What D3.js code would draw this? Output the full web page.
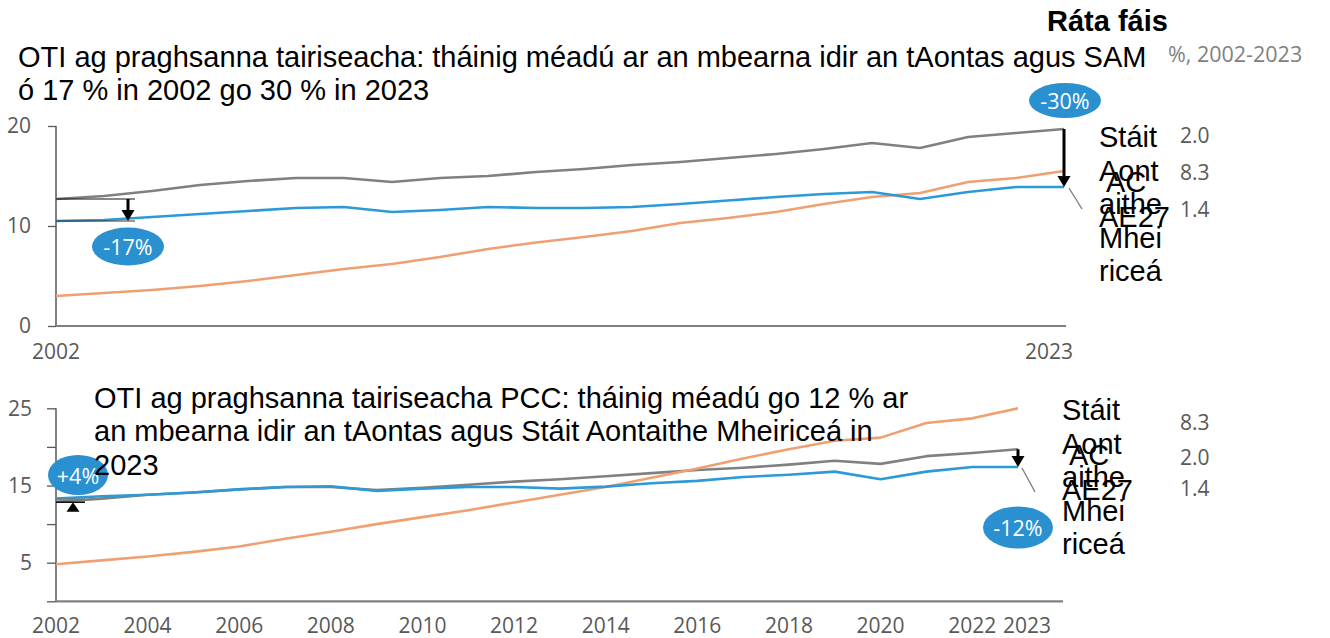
<!DOCTYPE html>
<html><head><meta charset="utf-8">
<script src="https://cdn.jsdelivr.net/npm/d3@7"></script>
<style>body{margin:0;background:#fff}</style>
</head><body><svg id="c" width="1330" height="638"></svg>
<script>
// ---------- data ----------
const years = [2002,2003,2004,2005,2006,2007,2008,2009,2010,2011,2012,2013,2014,2015,2016,2017,2018,2019,2020,2021,2022,2023];

// Panel 1: GDP at constant prices
const topUS = [12.7,13.0,13.5,14.1,14.5,14.8,14.8,14.4,14.8,15.0,15.4,15.7,16.1,16.4,16.8,17.2,17.7,18.3,17.8,18.9,19.3,19.7];
const topEU = [10.5,10.6,10.9,11.2,11.5,11.8,11.9,11.4,11.6,11.9,11.8,11.8,11.9,12.2,12.55,12.9,13.2,13.4,12.7,13.4,13.9,13.9];
const topCN = [3.0,3.3,3.6,4.0,4.5,5.1,5.7,6.2,6.9,7.7,8.35,8.9,9.5,10.3,10.8,11.4,12.2,12.9,13.3,14.4,14.8,15.5];

// Panel 2: GDP at constant prices PPP
const botUS = [12.9,13.3,13.8,14.1,14.5,14.8,14.8,14.4,14.7,15.1,15.5,15.8,16.2,16.6,17.0,17.3,17.7,18.2,17.8,18.8,19.2,19.7];
const botEU = [13.3,13.6,13.8,14.1,14.5,14.8,14.9,14.3,14.6,14.8,14.8,14.6,14.85,15.3,15.6,16.1,16.4,16.8,15.8,16.8,17.4,17.4];
const botCN = [4.8,5.3,5.8,6.4,7.1,8.1,9.0,10.0,10.9,11.8,12.8,13.8,14.8,16.0,17.2,18.5,19.7,20.8,21.2,23.1,23.7,25.0];

const topYTicks = [0,10,20];
const topYLabels = [0,10,20];
const topXLabels = [2002,2023];
const botYTicks = [0,5,10,15,20,25];
const botYLabels = [5,15,25];
const botXLabels = [2002,2004,2006,2008,2010,2012,2014,2016,2018,2020,2022,2023];

const topTitle = "OTI ag praghsanna tairiseacha: tháinig méadú ar an mbearna idir an tAontas agus SAM ó 17 % in 2002 go 30 % in 2023";
const botTitle = "OTI ag praghsanna tairiseacha PCC: tháinig méadú go 12 % ar an mbearna idir an tAontas agus Stáit Aontaithe Mheiriceá in 2023";
const seriesNames = ["Stáit Aontaithe Mheiriceá","AC","AE27"];
const growthTitle = "Ráta fáis";
const growthSub = "%, 2002-2023";
const topGrowth = ["2.0","8.3","1.4"];
const botGrowth = ["8.3","2.0","1.4"];
const topGaps = ["-17%","-30%"];
const botGaps = ["+4%","-12%"];

// ---------- style ----------
const TXT = "'Liberation Sans', Arial, sans-serif";
const NUM = "'Open Sans', 'Noto Sans', sans-serif";
const C_US = "#808080", C_CN = "#f0a070", C_EU = "#2b9ad6", C_BUB = "#2a90d0";

const svg = d3.select("#c");

function wrapWords(sel, str, maxW, lh) {
  const words = str.split(" ");
  let line = [], tspan = sel.append("tspan").attr("x", sel.attr("x")).attr("dy", 0);
  for (const w of words) {
    line.push(w);
    tspan.text(line.join(" "));
    if (tspan.node().getComputedTextLength() > maxW && line.length > 1) {
      line.pop();
      tspan.text(line.join(" "));
      line = [w];
      tspan = sel.append("tspan").attr("x", sel.attr("x")).attr("dy", lh).text(w);
    }
  }
}
function wrapChars(sel, str, maxW, lh) {
  let cur = "";
  let tspan = sel.append("tspan").attr("x", sel.attr("x")).attr("dy", 0);
  for (const ch of str) {
    const test = cur + ch;
    tspan.text(test);
    if (tspan.node().getComputedTextLength() > maxW && cur.trim() !== "") {
      tspan.text(cur.trim());
      cur = ch === " " ? "" : ch;
      tspan = sel.append("tspan").attr("x", sel.attr("x")).attr("dy", lh).text(cur);
    } else cur = test;
  }
  tspan.text(cur.trim());
}

function arrow(g, x, y0, y1) {
  const dir = y1 > y0 ? 1 : -1;
  const head = 11;
  g.append("line").attr("x1", x).attr("x2", x).attr("y1", y0).attr("y2", y1 - dir * head)
    .attr("stroke", "#000").attr("stroke-width", 3);
  g.append("path").attr("d", `M${x-6.5},${y1 - dir*head} L${x+6.5},${y1 - dir*head} L${x},${y1} Z`).attr("fill", "#000");
}
function bubble(g, cx, cy, rx, ry, label) {
  g.append("ellipse").attr("cx", cx).attr("cy", cy).attr("rx", rx).attr("ry", ry).attr("fill", C_BUB);
  g.append("text").attr("x", cx).attr("y", cy).attr("text-anchor", "middle").attr("dominant-baseline", "central")
    .attr("font-family", NUM).attr("font-size", 21.5).attr("fill", "#fff").text(label);
}

function panel(o) {
  const g = svg.append("g");
  const x = d3.scaleLinear().domain([years[0], years[years.length-1]]).range(o.xr);
  const y = d3.scaleLinear().domain(o.yd).range(o.yr);

  const ya = g.append("g").attr("transform", `translate(${o.xr[0]},0)`)
    .call(d3.axisLeft(y).tickValues(o.yTicks).tickSize(o.tick).tickSizeOuter(0).tickPadding(o.pad)
      .tickFormat(d => o.yLabels.includes(d) ? d : ""));
  ya.select(".domain").remove();
  ya.selectAll(".tick line").attr("stroke", "#595959").attr("stroke-width", 1.3);
  ya.selectAll(".tick text").attr("font-family", NUM).attr("font-size", 21).attr("fill", "#595959");
  g.append("line").attr("x1", o.xr[0]).attr("x2", o.xr[0]).attr("y1", o.yr[1]).attr("y2", o.yr[0])
    .attr("stroke", "#595959").attr("stroke-width", 1.5);
  g.append("line").attr("x1", o.xr[0]).attr("x2", o.xEnd).attr("y1", o.yr[0]).attr("y2", o.yr[0])
    .attr("stroke", "#808080").attr("stroke-width", 2.2);
  g.selectAll(".xl").data(o.xLabels).join("text")
    .attr("x", d => x(d) + (d === 2023 ? o.lastOff : 0)).attr("y", o.xLabY)
    .attr("text-anchor", "middle").attr("font-family", NUM).attr("font-size", 21).attr("fill", "#595959")
    .text(d => d);

  const line = d3.line().x((d, i) => x(years[i])).y(d => y(d));
  [[o.us, C_US], [o.cn, C_CN], [o.eu, C_EU]].forEach(([s, c]) => {
    g.append("path").attr("d", line(s)).attr("fill", "none").attr("stroke", c).attr("stroke-width", 2.6)
      .attr("stroke-linejoin", "round");
  });
  return {g, x, y};
}

// ---------- top panel ----------
const P1 = panel({xr:[56,1064], xEnd:1066, yd:[0,20], yr:[326,126], yTicks:topYTicks, yLabels:topYLabels,
  tick:8, pad:17, xLabels:topXLabels, xLabY:359, lastOff:-15, us:topUS, eu:topEU, cn:topCN});
{
  const {g, x, y} = P1;
  const x0 = x(2002);
  g.append("line").attr("x1", x0).attr("x2", x0 + 79).attr("y1", y(topUS[0])).attr("y2", y(topUS[0])).attr("stroke", "#111").attr("stroke-width", 1.2);
  g.append("line").attr("x1", x0).attr("x2", x0 + 79).attr("y1", y(topEU[0])).attr("y2", y(topEU[0])).attr("stroke", "#333").attr("stroke-width", 1.2);
  arrow(g, x0 + 72, y(topUS[0]), y(topEU[0]));
  bubble(g, x0 + 72, 246.5, 36, 19, topGaps[0]);
  const x1 = x(2023);
  arrow(g, x1, y(topUS[21]), y(topEU[21]));
  g.append("line").attr("x1", x1 + 5).attr("y1", y(topEU[21]) + 1).attr("x2", x1 + 18).attr("y2", y(topEU[21]) + 22)
    .attr("stroke", "#808080").attr("stroke-width", 1.4);
  bubble(g, x1 + 1, 100.5, 36, 17.5, topGaps[1]);
}

// ---------- bottom panel ----------
const P2 = panel({xr:[56,1018], xEnd:1063, yd:[0,25], yr:[601.3,408.3], yTicks:botYTicks, yLabels:botYLabels,
  tick:9, pad:15, xLabels:botXLabels, xLabY:633, lastOff:9, us:botUS, eu:botEU, cn:botCN});
{
  const {g, x, y} = P2;
  const x0 = x(2002);
  g.append("line").attr("x1", x0).attr("x2", x0 + 29).attr("y1", y(botEU[0]) + 0.5).attr("y2", y(botEU[0]) + 0.5).attr("stroke", "#777").attr("stroke-width", 1.2);
  g.append("line").attr("x1", x0).attr("x2", x0 + 29).attr("y1", y(botUS[0]) + 0.5).attr("y2", y(botUS[0]) + 0.5).attr("stroke", "#111").attr("stroke-width", 1.6);
  g.append("path").attr("d", `M${x0+17},${y(botUS[0]) + 0.5} L${x0+23.5},${y(botUS[0]) + 10} L${x0+10.5},${y(botUS[0]) + 10} Z`).attr("fill", "#000");
  bubble(g, x0 + 22, 475, 30, 20, botGaps[0]);
  const x1 = x(2023);
  arrow(g, x1, y(botUS[21]), y(botEU[21]));
  g.append("line").attr("x1", x1 + 4).attr("y1", y(botEU[21]) + 1).attr("x2", x1 + 17).attr("y2", y(botEU[21]) + 25)
    .attr("stroke", "#808080").attr("stroke-width", 1.4);
  bubble(g, x1, 527.5, 35, 21, botGaps[1]);
}

// ---------- titles ----------
const t1 = svg.append("text").attr("x", 18).attr("y", 67).attr("font-family", TXT).attr("font-size", 29).attr("fill", "#000");
wrapWords(t1, topTitle, 1140, 33.4);
const t2 = svg.append("text").attr("x", 94).attr("y", 408).attr("font-family", TXT).attr("font-size", 29).attr("fill", "#000");
wrapWords(t2, botTitle, 835, 33.4);

svg.append("text").attr("x", 1047).attr("y", 31).attr("font-family", TXT).attr("font-size", 29).attr("font-weight", "bold")
  .attr("fill", "#000").text(growthTitle);
svg.append("text").attr("x", 1168).attr("y", 62).attr("font-family", NUM).attr("font-size", 21.5).attr("fill", "#7f7f7f").text(growthSub);

// ---------- legends ----------
function legend(lx, ly, gx, gys, vals) {
  const t = svg.append("text").attr("x", lx).attr("y", ly).attr("font-family", TXT).attr("font-size", 29).attr("fill", "#000");
  wrapChars(t, seriesNames[0], 68, 33.6);
  svg.append("text").attr("x", lx + 7).attr("y", ly + 45).attr("font-family", TXT).attr("font-size", 29).attr("fill", "#000").text(seriesNames[1]);
  svg.append("text").attr("x", lx).attr("y", ly + 79.5).attr("font-family", TXT).attr("font-size", 29).attr("fill", "#000").text(seriesNames[2]);
  vals.forEach((v, i) => {
    svg.append("text").attr("x", gx).attr("y", gys[i]).attr("font-family", NUM).attr("font-size", 21).attr("fill", "#595959").text(v);
  });
}
legend(1099, 147, 1180, [143, 180, 217], topGrowth);
legend(1062, 420, 1180, [430, 465, 496], botGrowth);
</script>
</body></html>
